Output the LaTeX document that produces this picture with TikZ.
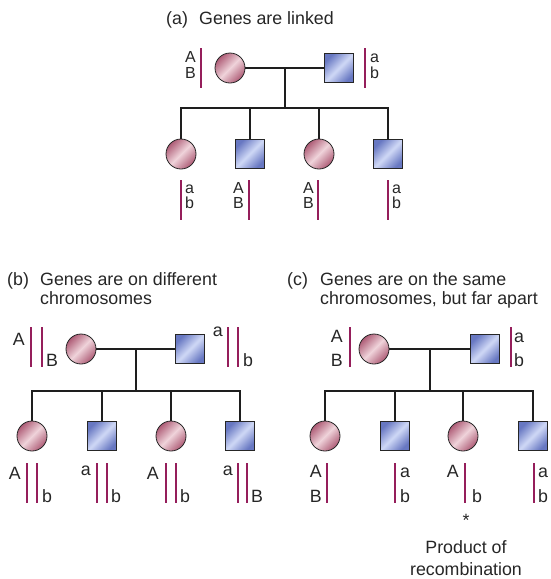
\documentclass[tikz,border=0pt]{standalone}
\usepackage{fontspec}
\setmainfont{Liberation Sans}
\usepackage{xcolor}
\usetikzlibrary{positioning,calc}
\definecolor{femd}{HTML}{AE5C76}
\definecolor{feml}{HTML}{EFD3DA}
\definecolor{mald}{HTML}{6878C2}
\definecolor{mall}{HTML}{CFD8F6}
\definecolor{chromc}{HTML}{951E5B}
\definecolor{pedc}{HTML}{1E1E1E}
\tikzset{
  fem/.style={circle, draw=black!85, line width=0.8pt, minimum size=30pt, inner sep=0pt,
              top color=femd, bottom color=femd, middle color=feml, shading angle=45},
  mal/.style={rectangle, draw=black!85, line width=0.8pt, minimum size=29pt, inner sep=0pt,
              top color=mald, bottom color=mald, middle color=mall, shading angle=45},
  ped/.style={draw=pedc, line width=2pt},
  chbar/.style={rectangle, fill=chromc, draw=none, inner sep=0pt, anchor=north,
                minimum width=2.6pt, minimum height=40pt},
  lbl/.style={font=\fontsize{17.8}{21}\selectfont, inner sep=0pt, text=black!85},
  slbl/.style={lbl, font=\fontsize{16}{18}\selectfont}
}
\newcommand{\chbar}[3]{\node[chbar] (#1) at (#2,#3) {};}

\begin{document}
\begin{tikzpicture}[x=1pt, y=-1pt]
  \useasboundingbox (0,0) rectangle (550,579);
  % (a) linked
  \node[lbl, anchor=base west] (tita) at (166,24) {(a)};
  \node[lbl, anchor=base west] (txta) at (199,24) {Genes are linked};
  \node[fem] (am) at (230,68) {};
  \node[mal] (af) at (339,68) {};
  \foreach \nm/\x/\sh in {ac1/181/fem, ac2/249.5/mal, ac3/319/fem, ac4/388/mal}
    \node[\sh] (\nm) at (\x,154) {};
  \draw[ped] (am) -- (af);
  \coordinate (amid) at ($(am.east)!0.5!(af.west)$);
  \draw[ped] (amid) -- ++(0,40) coordinate (asib);
  \draw[ped] (ac1.north) -- (ac1.north |- asib) -- (ac4.north |- asib) -- (ac4.north);
  \foreach \nm in {ac2,ac3} \draw[ped] (\nm.north |- asib) -- (\nm.north);
  \chbar{amb}{201}{48} \chbar{afb}{365}{48}
  \node[slbl, anchor=base east] (amA) at (196,62) {A};
  \node[slbl, anchor=base east] (amB) at (196,78) {B};
  \node[slbl, anchor=base west] (afa) at (370,62) {a};
  \node[slbl, anchor=base west] (afb2) at (370,78) {b};
  \chbar{ac1b}{181}{180} \chbar{ac2b}{249}{180} \chbar{ac3b}{318}{180} \chbar{ac4b}{388}{180}
  \node[slbl, anchor=base west] at (185,193) {a};
  \node[slbl, anchor=base west] at (185,208) {b};
  \node[slbl, anchor=base east] at (244,193) {A};
  \node[slbl, anchor=base east] at (244,208) {B};
  \node[slbl, anchor=base east] at (314,193) {A};
  \node[slbl, anchor=base east] at (314,208) {B};
  \node[slbl, anchor=base west] at (392,193) {a};
  \node[slbl, anchor=base west] at (392,208) {b};

  % (b) different chromosomes
  \node[lbl, anchor=base west] (titb) at (7,285) {(b)};
  \node[lbl, anchor=base west] (txtb1) at (40,285) {Genes are on different};
  \node[lbl, anchor=base west] (txtb2) at (40,304) {chromosomes};
  \node[fem] (bm) at (81,349) {};
  \node[mal] (bf) at (190,349) {};
  \foreach \nm/\x/\sh in {bc1/32/fem, bc2/102/mal, bc3/171/fem, bc4/240/mal}
    \node[\sh] (\nm) at (\x,436) {};
  \draw[ped] (bm) -- (bf);
  \coordinate (bmid) at ($(bm.east)!0.5!(bf.west)$);
  \draw[ped] (bmid) -- ++(0,42) coordinate (bsib);
  \draw[ped] (bc1.north) -- (bc1.north |- bsib) -- (bc4.north |- bsib) -- (bc4.north);
  \foreach \nm in {bc2,bc3} \draw[ped] (\nm.north |- bsib) -- (\nm.north);
  \chbar{bmb1}{31}{327} \chbar{bmb2}{42}{327}
  \chbar{bfb1}{228}{327} \chbar{bfb2}{238}{327}
  \node[lbl, anchor=base east] at (25,345) {A};
  \node[lbl, anchor=base west] at (46,366) {B};
  \node[lbl, anchor=base east] at (223,336) {a};
  \node[lbl, anchor=base west] at (243,366) {b};
  \chbar{bc1b1}{27}{463} \chbar{bc1b2}{37}{463}
  \chbar{bc2b1}{97}{463} \chbar{bc2b2}{107}{463}
  \chbar{bc3b1}{166}{463} \chbar{bc3b2}{176}{463}
  \chbar{bc4b1}{238}{463} \chbar{bc4b2}{247}{463}
  \node[lbl, anchor=base east] at (21,479) {A};
  \node[lbl, anchor=base west] at (42,502) {b};
  \node[lbl, anchor=base east] at (91,475) {a};
  \node[lbl, anchor=base west] at (111,502) {b};
  \node[lbl, anchor=base east] at (159,479) {A};
  \node[lbl, anchor=base west] at (180,502) {b};
  \node[lbl, anchor=base east] at (233,475) {a};
  \node[lbl, anchor=base west] at (251,502) {B};

  % (c) same chromosome, far apart
  \node[lbl, anchor=base west] (titc) at (287,285) {(c)};
  \node[lbl, anchor=base west] (txtc1) at (320,285) {Genes are on the same};
  \node[lbl, anchor=base west] (txtc2) at (320,304) {chromosomes, but far apart};
  \node[fem] (cm) at (374,349) {};
  \node[mal] (cf) at (485,349) {};
  \foreach \nm/\x/\sh in {cc1/325/fem, cc2/394.5/mal, cc3/463/fem, cc4/533/mal}
    \node[\sh] (\nm) at (\x,436) {};
  \draw[ped] (cm) -- (cf);
  \coordinate (cmid) at ($(cm.east)!0.5!(cf.west)$);
  \draw[ped] (cmid) -- ++(0,42) coordinate (csib);
  \draw[ped] (cc1.north) -- (cc1.north |- csib) -- (cc4.north |- csib) -- (cc4.north);
  \foreach \nm in {cc2,cc3} \draw[ped] (\nm.north |- csib) -- (\nm.north);
  \chbar{cmb}{350}{327} \chbar{cfb}{511}{327}
  \node[lbl, anchor=base east] at (343,342) {A};
  \node[lbl, anchor=base east] at (343,366) {B};
  \node[lbl, anchor=base west] at (514,342) {a};
  \node[lbl, anchor=base west] at (514,366) {b};
  \chbar{cc1b}{327}{463} \chbar{cc2b}{395}{463} \chbar{cc3b}{465}{463} \chbar{cc4b}{534}{463}
  \node[lbl, anchor=base east] at (322,477) {A};
  \node[lbl, anchor=base east] at (322,502) {B};
  \node[lbl, anchor=base west] at (400,477) {a};
  \node[lbl, anchor=base west] at (400,502) {b};
  \node[lbl, anchor=base east] at (459,477) {A};
  \node[lbl, anchor=base west] at (472,502) {b};
  \node[lbl, anchor=base] (star) at (466,526) {*};
  \node[lbl, anchor=base west] at (538,477) {a};
  \node[lbl, anchor=base west] at (538,502) {b};
  \node[lbl, anchor=base] (prod1) at (466,553) {Product of};
  \node[lbl, anchor=base] (prod2) at (466,575) {recombination};
\end{tikzpicture}
\end{document}
